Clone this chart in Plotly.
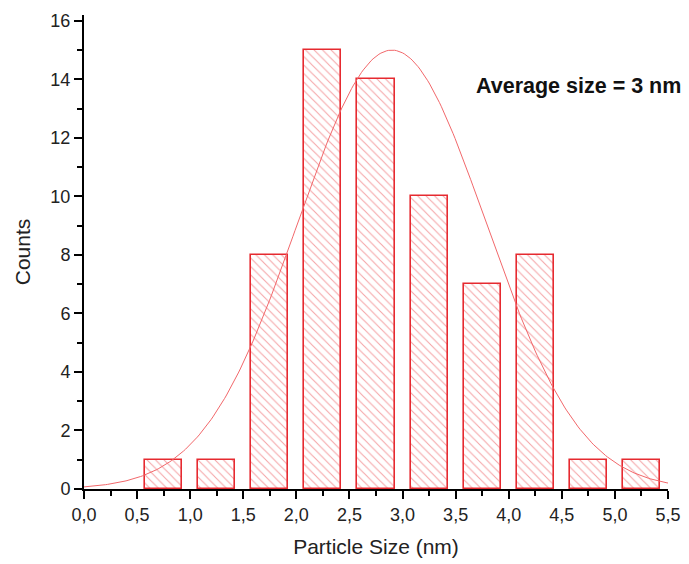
import numpy as np
import plotly.graph_objects as go

# Histogram data
bin_centers = [0.75, 1.25, 1.75, 2.25, 2.75, 3.25, 3.75, 4.25, 4.75, 5.25]
counts = [1, 1, 8, 15, 14, 10, 7, 8, 1, 1]
bar_width = 0.35

# Gaussian fit parameters
fit_center = 2.9
fit_amplitude = 15.0
fit_sigma = 0.887
fit_x_min, fit_x_max = 0.0, 5.5

x_ticks = [0, 0.5, 1, 1.5, 2, 2.5, 3, 3.5, 4, 4.5, 5, 5.5]
y_ticks = [0, 2, 4, 6, 8, 10, 12, 14, 16]

xf = np.linspace(fit_x_min, fit_x_max, 300)
yf = fit_amplitude * np.exp(-((xf - fit_center) ** 2) / (2 * fit_sigma ** 2))

FONT = "Liberation Sans, Arial, sans-serif"

fig = go.Figure()
fig.add_trace(go.Bar(
    x=bin_centers, y=counts, width=bar_width,
    marker=dict(color="rgba(255,255,255,0)",
                line=dict(color="#e62a30", width=1.6),
                pattern=dict(shape="\\", fgcolor="#ea4a4f", size=6, solidity=0.18)),
    showlegend=False,
))
fig.add_trace(go.Scatter(
    x=xf, y=yf, mode="lines",
    line=dict(color="#f2686b", width=1),
    showlegend=False,
))

axis_common = dict(
    showline=True, linecolor="black", linewidth=2,
    ticks="outside", tickcolor="black", tickwidth=2, ticklen=8,
    showgrid=False, zeroline=False, mirror=False, automargin=False,
    tickfont=dict(family=FONT, size=18, color="#222"),
)

fig.update_layout(
    width=689, height=564,
    margin=dict(l=76, r=29, t=7, b=83),
    paper_bgcolor="white", plot_bgcolor="white",
    separators=",.",
    font=dict(family=FONT, color="#222"),
    bargap=0,
)
fig.update_xaxes(
    range=[0, 5.5], tickvals=x_ticks, tickformat=".1f",
    minor=dict(dtick=0.25, tick0=0, ticks="outside", ticklen=5, tickwidth=2, tickcolor="black"),
    title=dict(text="Particle Size (nm)", font=dict(family=FONT, size=21), standoff=16),
    **axis_common,
)
fig.update_yaxes(
    range=[0, 16.2], tickvals=y_ticks,
    minor=dict(dtick=1, tick0=0, ticks="outside", ticklen=5, tickwidth=2, tickcolor="black"),
    title=dict(text="Counts", font=dict(family=FONT, size=21), standoff=14),
    **axis_common,
)
fig.add_annotation(
    x=0.668, xref="paper", y=13.76, yref="y",
    text="<b>Average size = 3 nm</b>", showarrow=False,
    xanchor="left", yanchor="middle",
    font=dict(family=FONT, size=21.5, color="#111"),
)

fig.write_html("out.html")
